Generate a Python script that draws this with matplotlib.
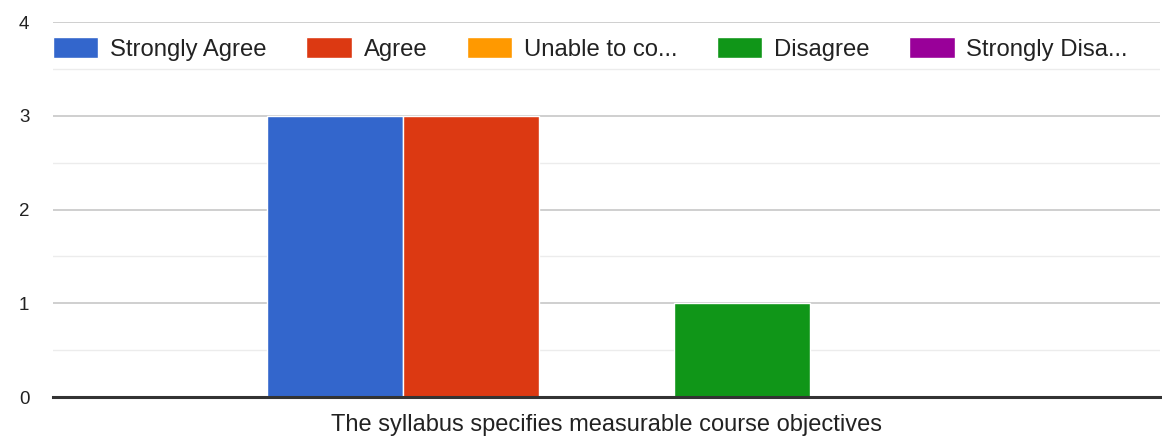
import numpy as np
import matplotlib
matplotlib.use("Agg")
import matplotlib.pyplot as plt

# Survey responses for one statement
category = "The syllabus specifies measurable course objectives"
series_names = ["Strongly Agree", "Agree", "Unable to co...", "Disagree", "Strongly Disa..."]
counts = [3, 3, 0, 1, 0]
colors = ["#3366cc", "#dc3912", "#ff9900", "#109618", "#990099"]
y_ticks = [0, 1, 2, 3, 4]

plt.rcParams["font.family"] = ["Liberation Sans", "DejaVu Sans"]

fig = plt.figure(figsize=(11.62, 4.40), dpi=100)
ax = fig.add_axes([53 / 1162, 1 - 397 / 440, 1107 / 1162, 375 / 440])

bar_w = 0.1225
offsets = (np.arange(len(counts)) - (len(counts) - 1) / 2) * bar_w
handles = []
for i, (name, val, col) in enumerate(zip(series_names, counts, colors)):
    b = ax.bar(offsets[i], val, width=bar_w, color=col, edgecolor="white",
               linewidth=1.0, label=name, zorder=3)
    handles.append(b)

ax.set_xlim(-0.5, 0.5)
ax.set_ylim(0, 4)
ax.set_yticks(y_ticks)
ax.set_yticklabels([str(t) for t in y_ticks], fontsize=13.5, color="#222222")
ax.set_yticks(np.arange(0.5, 4, 1), minor=True)
ax.tick_params(axis="y", which="both", length=0, pad=17)
ax.grid(axis="y", which="major", color="#cccccc", linewidth=1.3, zorder=0)
ax.grid(axis="y", which="minor", color="#ececec", linewidth=1.0, zorder=0)

ax.set_xticks([0])
ax.set_xticklabels([category], fontsize=17, color="#222222")
ax.tick_params(axis="x", length=0, pad=12)

for s in ["top", "right", "left"]:
    ax.spines[s].set_visible(False)
ax.spines["bottom"].set_color("#333333")
ax.spines["bottom"].set_linewidth(2.2)
ax.spines["bottom"].set_zorder(4)

leg = ax.legend(handles=handles, labels=series_names, loc="upper left",
                bbox_to_anchor=(0.0, 0.96), ncol=5, frameon=False,
                fontsize=17.2, handlelength=1.9, handleheight=0.95,
                handletextpad=0.5, columnspacing=1.65, borderaxespad=0,
                borderpad=0)
for t in leg.get_texts():
    t.set_color("#222222")

fig.savefig("out.png", dpi=100, facecolor="white")
